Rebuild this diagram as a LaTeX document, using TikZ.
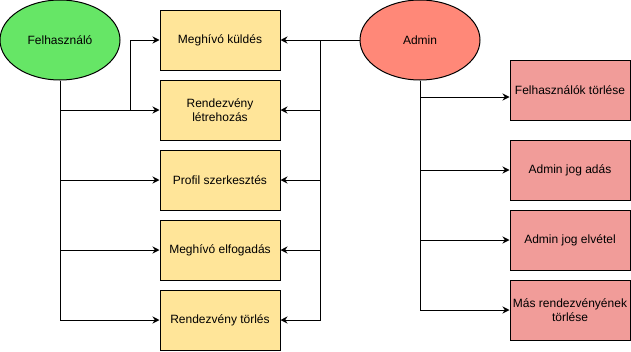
\documentclass[tikz,border=0pt]{standalone}
\usepackage{fontspec}
\setmainfont{Liberation Sans}
\usetikzlibrary{arrows.meta,shapes.geometric}
\definecolor{userfill}{HTML}{66E666}
\definecolor{adminfill}{HTML}{FF8878}
\definecolor{taskfill}{HTML}{FFE599}
\definecolor{rightfill}{HTML}{F19C99}
\tikzset{
  role/.style={draw, ellipse, minimum width=120pt, minimum height=80pt, inner sep=0pt},
  task/.style={draw, rectangle, fill=taskfill, minimum width=120pt, minimum height=60pt,
               align=center, inner sep=0pt},
  right task/.style={task, fill=rightfill},
  link/.style={-{Stealth[length=7pt,width=7pt]}}
}
\begin{document}
\begin{tikzpicture}[x=1pt, y=-1pt, line width=1pt, font=\fontsize{12}{14}\selectfont]
  \useasboundingbox (0,0) rectangle (631,351);
  % szerepkorok
  \node[role, fill=userfill] (user) at (60,40) {Felhasználó};
  \node[role, fill=adminfill] (admin) at (420,40) {Admin};
  % kozos funkciok
  \node[task] (invite) at (220,40) {Meghívó küldés};
  \node[task] (create) at (220,110) {Rendezvény\\létrehozás};
  \node[task] (profile) at (220,180) {Profil szerkesztés};
  \node[task] (accept) at (220,250) {Meghívó elfogadás};
  \node[task] (delete) at (220,320) {Rendezvény törlés};
  % csak admin
  \node[right task] (deluser) at (570,90) {Felhasználók törlése};
  \node[right task] (grant) at (570,170) {Admin jog adás};
  \node[right task] (revoke) at (570,240) {Admin jog elvétel};
  \node[right task] (delother) at (570,310) {Más rendezvényének\\törlése};
  \coordinate (ubranch) at (130,110);
  \coordinate (ajunc) at (320,40);
  % felhasznalo -> funkciok
  \draw[link] (user.south) |- (create.west);
  \draw[link] (ubranch) |- (invite.west);
  \draw[link] (user.south) |- (profile.west);
  \draw[link] (user.south) |- (accept.west);
  \draw[link] (user.south) |- (delete.west);
  % admin -> funkciok
  \draw[link] (admin.west) -- (invite.east);
  \draw[link] (ajunc) |- (create.east);
  \draw[link] (ajunc) |- (profile.east);
  \draw[link] (ajunc) |- (accept.east);
  \draw[link] (ajunc) |- (delete.east);
  \draw[link] (admin.south) |- ([yshift=-7pt]deluser.west);
  \draw[link] (admin.south) |- (grant.west);
  \draw[link] (admin.south) |- (revoke.west);
  \draw[link] (admin.south) |- (delother.west);
\end{tikzpicture}
\end{document}
